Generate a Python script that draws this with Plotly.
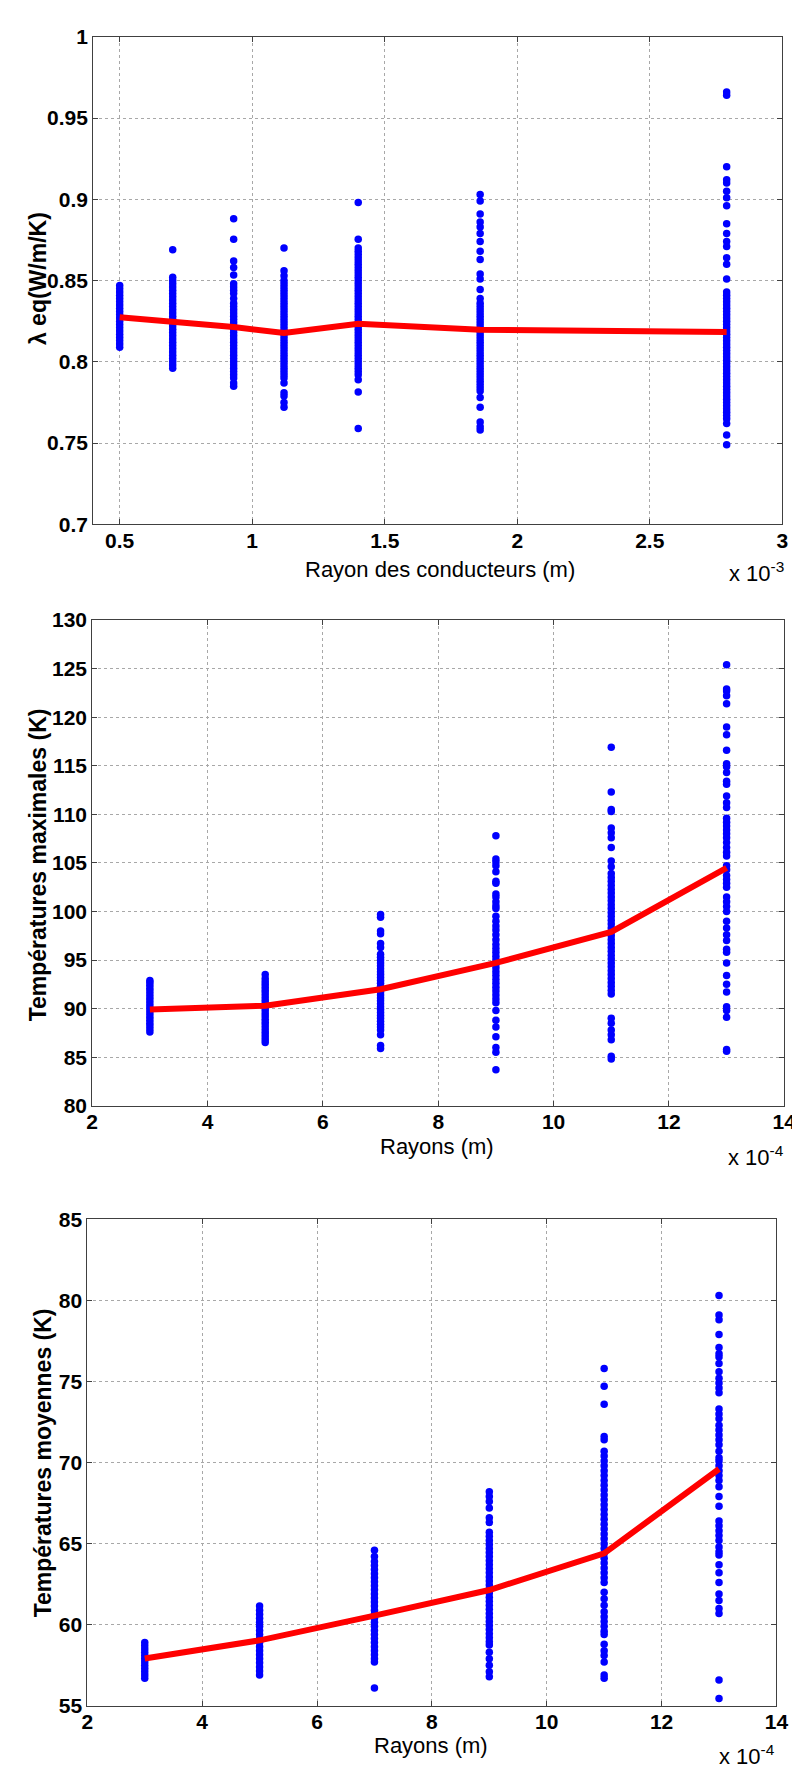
import plotly.graph_objects as go

# ---------------- DATA ----------------
# Panel 1: lambda eq vs conductor radius (x in units of 1e-3 m)
radius_1 = [0.5, 0.7, 0.93, 1.12, 1.4, 1.86, 2.79]
lambda_mean = [0.8275, 0.825, 0.8214, 0.8178, 0.8235, 0.8198, 0.8184]
lambda_samples = [
    [0.809, 0.811, 0.813, 0.815, 0.817, 0.819, 0.821, 0.823, 0.825, 0.827, 0.829,
     0.831, 0.833, 0.835, 0.837, 0.839, 0.841, 0.843, 0.845, 0.847],
    [0.869, 0.852, 0.850, 0.848, 0.846, 0.844, 0.842, 0.840, 0.838, 0.836, 0.834,
     0.832, 0.830, 0.828, 0.826, 0.824, 0.822, 0.820, 0.818, 0.816, 0.814, 0.812,
     0.810, 0.808, 0.806, 0.804, 0.802, 0.800, 0.798, 0.796],
    [0.888, 0.8755, 0.862, 0.858, 0.8535, 0.848, 0.846, 0.844, 0.842, 0.839, 0.836,
     0.834, 0.832, 0.830, 0.828, 0.826, 0.824, 0.822, 0.820, 0.818, 0.816, 0.814,
     0.812, 0.810, 0.808, 0.806, 0.804, 0.802, 0.800, 0.798, 0.796, 0.794, 0.792,
     0.790, 0.787, 0.785],
    [0.870, 0.856, 0.853, 0.850, 0.848, 0.846, 0.844, 0.842, 0.840, 0.838, 0.836,
     0.834, 0.832, 0.830, 0.828, 0.826, 0.824, 0.822, 0.820, 0.818, 0.816, 0.814,
     0.812, 0.810, 0.808, 0.806, 0.804, 0.802, 0.800, 0.798, 0.796, 0.794, 0.792,
     0.790, 0.787, 0.781, 0.779, 0.775, 0.772],
    [0.898, 0.8755, 0.870, 0.868, 0.866, 0.864, 0.862, 0.860, 0.858, 0.856, 0.854,
     0.852, 0.850, 0.848, 0.846, 0.844, 0.842, 0.840, 0.838, 0.836, 0.834, 0.832,
     0.830, 0.828, 0.826, 0.824, 0.822, 0.820, 0.818, 0.816, 0.814, 0.812, 0.810,
     0.808, 0.806, 0.804, 0.802, 0.800, 0.798, 0.796, 0.794, 0.792, 0.789, 0.7815,
     0.759],
    [0.903, 0.899, 0.891, 0.886, 0.883, 0.879, 0.874, 0.868, 0.863, 0.854, 0.851,
     0.8445, 0.839, 0.836, 0.834, 0.832, 0.830, 0.828, 0.826, 0.824, 0.822, 0.820,
     0.818, 0.816, 0.814, 0.812, 0.810, 0.808, 0.806, 0.804, 0.802, 0.800, 0.798,
     0.796, 0.794, 0.792, 0.790, 0.788, 0.786, 0.784, 0.782, 0.778, 0.772, 0.763,
     0.760, 0.758],
    [0.966, 0.964, 0.920, 0.912, 0.910, 0.905, 0.901, 0.896, 0.885, 0.879, 0.874,
     0.871, 0.864, 0.860, 0.851, 0.843, 0.841, 0.839, 0.837, 0.835, 0.833, 0.831,
     0.829, 0.827, 0.825, 0.823, 0.821, 0.819, 0.817, 0.815, 0.813, 0.811, 0.809,
     0.807, 0.805, 0.803, 0.801, 0.799, 0.797, 0.795, 0.793, 0.791, 0.789, 0.787,
     0.785, 0.783, 0.781, 0.779, 0.777, 0.775, 0.773, 0.771, 0.769, 0.767, 0.765,
     0.762, 0.755, 0.749],
]

# Panel 2: maximal temperatures vs radius (x in units of 1e-4 m)
radius_2 = [3, 5, 7, 9, 11, 13]
tmax_mean = [89.9, 90.3, 92.0, 94.7, 97.9, 104.5]
tmax_samples = [
    [87.6, 87.9, 88.2, 88.5, 88.8, 89.1, 89.4, 89.7, 90.0, 90.3, 90.6, 90.9, 91.2,
     91.5, 91.8, 92.1, 92.4, 92.7, 92.9],
    [86.5, 86.8, 87.1, 87.4, 87.7, 88.0, 88.3, 88.6, 88.9, 89.2, 89.5, 89.8, 90.1,
     90.4, 90.7, 91.0, 91.3, 91.6, 91.9, 92.2, 92.5, 92.8, 93.1, 93.5],
    [99.7, 99.4, 98.0, 97.7, 96.7, 96.3, 95.6, 95.3, 95.0, 94.7, 94.4, 94.1, 93.8,
     93.5, 93.2, 92.9, 92.6, 92.3, 92.0, 91.7, 91.4, 91.1, 90.8, 90.5, 90.2, 89.9,
     89.6, 89.3, 89.0, 88.7, 88.4, 88.1, 87.8, 87.3, 86.2, 85.9],
    [107.8, 105.4, 105.1, 104.7, 104.1, 103.1, 102.9, 101.8, 101.5, 101.0, 100.6,
     100.3, 99.5, 99.0, 98.5, 98.1, 97.6, 97.1, 96.6, 96.2, 95.8, 95.4, 95.0, 94.6,
     94.2, 93.8, 93.4, 93.0, 92.6, 92.2, 91.8, 91.4, 91.0, 90.6, 89.8, 88.8, 88.1,
     87.1, 86.0, 85.5, 83.7],
    [116.9, 112.3, 110.5, 110.3, 108.6, 108.1, 107.6, 106.6, 105.2, 104.6, 103.9,
     103.5, 103.1, 102.7, 102.3, 101.9, 101.5, 101.1, 100.7, 100.3, 99.9, 99.5,
     99.1, 98.7, 98.3, 97.9, 97.5, 97.1, 96.7, 96.3, 95.9, 95.5, 95.1, 94.7, 94.3,
     93.9, 93.5, 93.1, 92.7, 92.3, 91.9, 91.5, 89.0, 88.5, 87.8, 87.3, 86.8, 85.1,
     84.8],
    [125.4, 122.9, 122.7, 122.2, 121.4, 119.0, 118.2, 116.6, 115.2, 114.9, 114.3,
     113.4, 113.1, 111.9, 111.2, 110.7, 109.6, 109.2, 108.8, 108.4, 108.0, 107.6,
     107.1, 106.6, 106.1, 105.7, 104.7, 104.3, 103.7, 103.3, 102.9, 102.5, 101.5,
     101.0, 100.5, 100.0, 99.0, 98.3, 97.6, 97.0, 96.1, 95.8, 94.7, 93.4, 92.5,
     91.7, 90.2, 89.8, 89.1, 85.8, 85.6],
]

# Panel 3: mean temperatures vs radius (x in units of 1e-4 m)
radius_3 = [3, 5, 7, 9, 11, 13]
tmoy_mean = [57.92, 59.04, 60.56, 62.14, 64.4, 69.6]
tmoy_samples = [
    [56.7, 56.9, 57.1, 57.3, 57.5, 57.7, 57.9, 58.1, 58.3, 58.5, 58.7, 58.9],
    [56.9, 57.15, 57.4, 57.65, 57.9, 58.15, 58.4, 58.65, 58.9, 59.15, 59.4, 59.65,
     59.9, 60.15, 60.4, 60.65, 60.9, 61.15],
    [64.6, 64.2, 63.9, 63.65, 63.4, 63.15, 62.9, 62.65, 62.4, 62.15, 61.9, 61.65,
     61.4, 61.15, 60.9, 60.65, 60.4, 60.15, 59.9, 59.65, 59.4, 59.15, 58.9, 58.65,
     58.4, 58.15, 57.9, 57.7, 56.1],
    [68.2, 67.9, 67.6, 67.2, 66.6, 66.3, 65.7, 65.45, 65.2, 64.95, 64.7, 64.45,
     64.2, 63.95, 63.7, 63.45, 63.2, 62.95, 62.7, 62.45, 62.2, 61.95, 61.7, 61.45,
     61.2, 60.95, 60.7, 60.45, 60.2, 59.95, 59.7, 59.45, 59.2, 58.95, 58.75, 58.3,
     57.9, 57.5, 57.1, 56.8],
    [75.8, 74.7, 73.6, 71.6, 71.4, 70.7, 70.4, 70.1, 69.8, 69.5, 69.2, 68.9, 68.6,
     68.3, 68.0, 67.7, 67.4, 67.1, 66.8, 66.5, 66.2, 65.9, 65.6, 65.3, 65.0, 64.7,
     64.4, 64.1, 63.8, 63.5, 63.2, 62.9, 62.6, 62.0, 61.6, 61.2, 60.8, 60.5, 60.2,
     59.9, 59.6, 59.4, 58.8, 58.4, 58.1, 57.7, 56.9, 56.7],
    [80.3, 79.1, 78.8, 77.9, 77.1, 76.7, 76.5, 76.1, 75.6, 75.2, 74.9, 74.6, 74.3,
     73.3, 73.0, 72.7, 72.3, 72.0, 71.7, 71.4, 71.1, 70.7, 70.3, 70.1, 69.8, 69.5,
     69.2, 68.9, 68.5, 67.9, 67.3, 66.4, 66.1, 65.8, 65.5, 65.2, 64.8, 64.5, 64.3,
     63.7, 63.2, 62.6, 61.9, 61.5, 61.0, 60.7, 56.6, 55.45],
]

# Axis ticks / labels
x1_ticks = [0.5, 1, 1.5, 2, 2.5, 3]
x1_ticktext = ["0.5", "1", "1.5", "2", "2.5", "3"]
y1_ticks = [0.7, 0.75, 0.8, 0.85, 0.9, 0.95, 1.0]
y1_ticktext = ["0.7", "0.75", "0.8", "0.85", "0.9", "0.95", "1"]
x23_ticks = [2, 4, 6, 8, 10, 12, 14]
y2_ticks = [80, 85, 90, 95, 100, 105, 110, 115, 120, 125, 130]
y3_ticks = [55, 60, 65, 70, 75, 80, 85]

xlabel_1 = "Rayon des conducteurs (m)"
ylabel_1 = "λ eq(W/m/K)"
xlabel_2 = "Rayons (m)"
ylabel_2 = "Températures maximales (K)"
xlabel_3 = "Rayons (m)"
ylabel_3 = "Températures moyennes (K)"
exp_1 = "x 10<sup>-3</sup>"
exp_23 = "x 10<sup>-4</sup>"

# ---------------- FIGURE ----------------
W, H = 800, 1773
FONT = "Liberation Sans, Arial, Helvetica, sans-serif"


def px(x):
    return x / W


def py(y):
    return 1 - y / H


fig = go.Figure()

panels = [
    (radius_1, lambda_mean, lambda_samples, "x", "y"),
    (radius_2, tmax_mean, tmax_samples, "x2", "y2"),
    (radius_3, tmoy_mean, tmoy_samples, "x3", "y3"),
]
for radii, means, samples, xa, ya in panels:
    xs, ys = [], []
    for r, vals in zip(radii, samples):
        xs += [r] * len(vals)
        ys += vals
    fig.add_trace(go.Scatter(x=xs, y=ys, mode="markers", xaxis=xa, yaxis=ya,
                             marker=dict(color="#0000FF", size=7.5, line=dict(width=0)),
                             showlegend=False, hoverinfo="x+y"))
    fig.add_trace(go.Scatter(x=radii, y=means, mode="lines", xaxis=xa, yaxis=ya,
                             line=dict(color="#FF0000", width=6),
                             showlegend=False))

axis_common = dict(
    showline=True, linecolor="#404040", linewidth=1, mirror="ticks",
    ticks="inside", ticklen=5, tickcolor="#404040",
    showgrid=True, gridcolor="#a8a8a8", griddash="dot", gridwidth=1,
    zeroline=False,
    tickfont=dict(family=FONT, size=21, color="black", weight="bold"),
)
xaxis_extra = dict(ticklabelstandoff=-3)

fig.update_layout(
    width=W, height=H,
    margin=dict(l=0, r=0, t=0, b=0),
    paper_bgcolor="white", plot_bgcolor="white",
    xaxis=dict(domain=[px(81), px(786)], range=[0.4, 3.0], anchor="y",
               tickvals=x1_ticks, ticktext=x1_ticktext, **axis_common, **xaxis_extra),
    yaxis=dict(domain=[py(511), py(17)], range=[0.7, 1.0], anchor="x",
               tickvals=y1_ticks, ticktext=y1_ticktext, **axis_common),
    xaxis2=dict(domain=[px(80), px(788)], range=[2, 14], anchor="y2",
                tickvals=x23_ticks, **axis_common, **xaxis_extra),
    yaxis2=dict(domain=[py(1100), py(608)], range=[80, 130], anchor="x2",
                tickvals=y2_ticks, **axis_common),
    xaxis3=dict(domain=[px(75), px(780)], range=[2, 14], anchor="y3",
                tickvals=x23_ticks, **axis_common, **xaxis_extra),
    yaxis3=dict(domain=[py(1708), py(1215)], range=[55, 85], anchor="x3",
                tickvals=y3_ticks, **axis_common),
)

title_font = dict(family=FONT, size=22, color="black")
exp_font = dict(family=FONT, size=22, color="black")
ytitle_font = dict(family=FONT, size=23, color="black", weight="bold")
annos = [
    (xlabel_1, 436, 557, 0, title_font, "center"),
    (ylabel_1, 24, 262, -90, ytitle_font, "center"),
    (exp_1, 790, 559, 0, exp_font, "right"),
    (xlabel_2, 433, 1141, 0, title_font, "center"),
    (ylabel_2, 24, 856, -90, ytitle_font, "center"),
    (exp_23, 790, 1151, 0, exp_font, "right"),
    (xlabel_3, 427, 1748, 0, title_font, "center"),
    (ylabel_3, 30, 1462, -90, ytitle_font, "center"),
    (exp_23, 781, 1758, 0, exp_font, "right"),
]
for text, x, y, ang, f, xa in annos:
    fig.add_annotation(text=text, x=px(x), y=py(y), xref="paper", yref="paper",
                       xanchor=xa, yanchor="middle", textangle=ang,
                       showarrow=False, font=f)

fig.write_html("out.html")
